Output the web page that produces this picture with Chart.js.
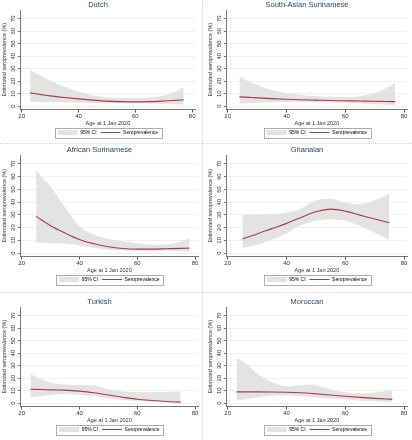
<!DOCTYPE html>
<html>
<head>
<meta charset="utf-8">
<script src="https://cdn.jsdelivr.net/npm/chart.js@4.4.1/dist/chart.umd.min.js"></script>
<style>
  html, body { margin: 0; padding: 0; background: #fff; }
  #wrap { position: relative; width: 412px; height: 440px; overflow: hidden; }
  #wrap canvas { position: absolute; }
  .sep { position: absolute; border: 0 dotted #d6d6d6; }
</style>
</head>
<body>
<div id="wrap">
  <div class="sep" style="left:202px;top:0;height:440px;border-left-width:1px"></div>
  <div class="sep" style="left:0;top:143px;width:412px;border-top-width:1px"></div>
  <div class="sep" style="left:0;top:292px;width:412px;border-top-width:1px"></div>
  <canvas id="p0"></canvas>
  <canvas id="p1"></canvas>
  <canvas id="p2"></canvas>
  <canvas id="p3"></canvas>
  <canvas id="p4"></canvas>
  <canvas id="p5"></canvas>
</div>
<script>
// ── data ──
const groups = ['Dutch', 'South-Asian Surinamese', 'African Surinamese', 'Ghanaian', 'Turkish', 'Moroccan'];
const xTicks = [20, 40, 60, 80];
const yTicks = [0, 10, 20, 30, 40, 50, 60, 70];

const agesDutch = [23, 27, 30, 35, 40, 45, 50, 55, 60, 65, 70, 74, 77];
const estDutch  = [10.6, 9.2, 8.2, 6.9, 5.8, 4.8, 4.0, 3.6, 3.4, 3.6, 4.1, 4.6, 5.0];
const hiDutch   = [29, 24, 20.5, 15.5, 11.5, 8.8, 7.2, 6.6, 6.5, 7.0, 8.5, 11.5, 15.5];
const loDutch   = [3.3, 3.2, 3.1, 3.0, 2.8, 2.6, 2.4, 2.3, 2.3, 2.2, 1.9, 1.6, 1.3];

const agesSAS = [24, 27, 30, 35, 40, 45, 50, 55, 60, 65, 70, 74, 77];
const estSAS  = [7.4, 7.0, 6.6, 6.0, 5.5, 5.1, 4.8, 4.5, 4.3, 4.1, 3.9, 3.7, 3.6];
const hiSAS   = [24, 20, 17, 13, 10.5, 9, 8, 7.5, 7.3, 8, 10.5, 14.5, 18.7];
const loSAS   = [2.2, 2.5, 2.8, 3.2, 3.3, 3.3, 3.2, 3.0, 2.6, 2.1, 1.6, 1.2, 0.9];

const agesAS = [25, 30, 35, 40, 45, 50, 55, 60, 65, 70, 75, 78];
const estAS  = [28.8, 21.5, 15.8, 10.6, 7.3, 4.9, 3.6, 3.1, 3.1, 3.4, 3.7, 3.9];
const hiAS   = [64.8, 52, 36, 21, 14.5, 11, 9.3, 7.8, 6.5, 6.7, 9, 11.7];
const loAS   = [8.0, 7.8, 7.5, 6.0, 4.1, 2.6, 2.0, 1.8, 1.8, 1.8, 1.5, 1.3];

const agesGha = [25, 30, 35, 40, 45, 50, 55, 60, 65, 70, 75];
const estGha  = [11.1, 15, 19.2, 23.3, 28, 32.4, 34.5, 32.9, 29.8, 26.7, 23.8];
const hiGha   = [29.8, 30.3, 30.6, 31.6, 35, 41.5, 42.7, 39.4, 38.3, 41.5, 46.6];
const loGha   = [3.9, 6.5, 10.4, 15.5, 22, 25.4, 26.4, 25.4, 21.2, 16, 10.4];

const agesTur = [23, 27, 30, 35, 40, 45, 50, 55, 60, 65, 70, 75];
const estTur  = [11.1, 10.9, 10.6, 10.4, 9.6, 8.3, 6.5, 4.7, 3.1, 2.1, 1.3, 0.8];
const hiTur   = [23.3, 18.9, 16.3, 15, 14.5, 14.2, 11.1, 9.3, 8.8, 8.8, 9, 9.3];
const loTur   = [4.7, 5.7, 6.5, 7.3, 6.7, 5.7, 3.9, 2.6, 1.8, 1.3, 0.8, 0.5];

const agesMor = [23, 27, 30, 35, 40, 45, 48, 50, 55, 60, 65, 70, 76];
const estMor  = [9.0, 9.0, 9.0, 8.9, 8.7, 8.3, 7.9, 7.5, 6.5, 5.5, 4.6, 3.8, 3.0];
const hiMor   = [36.7, 30.3, 23.8, 16.9, 13.6, 14.4, 14.9, 14.4, 11, 8.5, 7.7, 8.5, 10.3];
const loMor   = [2, 3.5, 4.6, 5.9, 6.4, 5.6, 5.0, 4.6, 3.8, 3.1, 2, 1.5, 0.8];

const panelAges = [agesDutch, agesSAS, agesAS, agesGha, agesTur, agesMor];
const panelEst  = [estDutch, estSAS, estAS, estGha, estTur, estMor];
const panelHi   = [hiDutch, hiSAS, hiAS, hiGha, hiTur, hiMor];
const panelLo   = [loDutch, loSAS, loAS, loGha, loTur, loMor];

// ── layout / style ──
const boxes = [
  { left: 0,   top: 0,   w: 200, h: 143, pb: -2 },
  { left: 206, top: 0,   w: 206, h: 143, pb: -2 },
  { left: 0,   top: 145, w: 203, h: 147, pb: 0 },
  { left: 206, top: 145, w: 206, h: 147, pb: 0 },
  { left: 0,   top: 297, w: 203, h: 143, pb: -2 },
  { left: 206, top: 297, w: 206, h: 143, pb: -2 }
];
const FONT = '"Liberation Sans", Arial, sans-serif';
const LINE = '#a83b4b';
const CI = '#e3e3e3';
const AXIS = '#555';

const pts = (xs, ys) => xs.map((x, i) => ({ x, y: ys[i] }));

// frame round the legend, like the Stata key box
const legendFrame = {
  id: 'legendFrame',
  afterDraw(chart) {
    const hb = chart.legend && chart.legend.legendHitBoxes;
    if (!hb || !hb.length) return;
    const l = Math.min(...hb.map(b => b.left)) - 3;
    const r = Math.max(...hb.map(b => b.left + b.width)) + 4;
    const t = Math.min(...hb.map(b => b.top)) - 2.5;
    const b = Math.max(...hb.map(b => b.top + b.height)) + 2;
    const ctx = chart.ctx;
    ctx.save();
    ctx.strokeStyle = '#9a9a9a';
    ctx.lineWidth = 0.8;
    ctx.strokeRect(Math.round(l) + 0.5, Math.round(t) + 0.5, Math.round(r - l), Math.round(b - t));
    ctx.restore();
  }
};

groups.forEach((name, i) => {
  const bx = boxes[i];
  const cv = document.getElementById('p' + i);
  cv.width = bx.w; cv.height = bx.h;
  cv.style.left = bx.left + 'px'; cv.style.top = bx.top + 'px';
  cv.style.width = bx.w + 'px'; cv.style.height = bx.h + 'px';

  const ages = panelAges[i];
  new Chart(cv, {
    type: 'line',
    data: {
      datasets: [
        {
          label: '95% CI',
          data: pts(ages, panelHi[i]),
          borderWidth: 0,
          backgroundColor: CI,
          pointRadius: 0,
          fill: '+1',
          order: 2,
          cubicInterpolationMode: 'monotone'
        },
        {
          label: 'lower',
          data: pts(ages, panelLo[i]),
          borderWidth: 0,
          pointRadius: 0,
          fill: false,
          order: 2,
          cubicInterpolationMode: 'monotone'
        },
        {
          label: 'Seroprevalence',
          data: pts(ages, panelEst[i]),
          borderColor: LINE,
          borderWidth: 1.1,
          pointRadius: 0,
          fill: false,
          order: 0,
          cubicInterpolationMode: 'monotone'
        }
      ]
    },
    options: {
      responsive: false,
      animation: false,
      devicePixelRatio: 1,
      layout: { padding: { left: 1, right: 5, top: 0, bottom: bx.pb } },
      plugins: {
        title: {
          display: true,
          text: name,
          color: '#1a476f',
          font: { family: FONT, size: 7.5, weight: 'normal', lineHeight: 1.2 },
          padding: { top: 0.5, bottom: 0.5 }
        },
        legend: {
          position: 'bottom',
          fullSize: false,
          labels: {
            font: { family: FONT, size: 5 },
            color: '#222',
            usePointStyle: true,
            pointStyleWidth: 20,
            boxHeight: 7,
            padding: 4,
            generateLabels: () => [
              { text: '95% CI', fillStyle: CI, strokeStyle: CI, lineWidth: 0, pointStyle: 'rect', datasetIndex: 0 },
              { text: 'Seroprevalence', fillStyle: LINE, strokeStyle: LINE, lineWidth: 1.1, pointStyle: 'line', datasetIndex: 2 }
            ]
          }
        },
        tooltip: { enabled: false }
      },
      scales: {
        x: {
          type: 'linear',
          min: 19.7,
          max: 81,
          afterBuildTicks: ax => { ax.ticks = xTicks.map(v => ({ value: v })); },
          grid: { drawOnChartArea: false, drawTicks: true, tickLength: 3, tickColor: AXIS },
          border: { display: true, color: AXIS, width: 0.8 },
          ticks: { font: { family: FONT, size: 6, lineHeight: 1 }, color: '#333', padding: 1, maxRotation: 0 },
          title: { display: true, text: 'Age at 1 Jan 2020', font: { family: FONT, size: 5.5, lineHeight: 1 }, color: '#333', padding: { top: 0, bottom: 0 } }
        },
        y: {
          min: -2.7,
          max: 77,
          afterBuildTicks: ax => { ax.ticks = yTicks.map(v => ({ value: v })); },
          grid: { color: '#ececec', lineWidth: 0.8, drawTicks: true, tickLength: 3, tickColor: AXIS },
          border: { display: true, color: AXIS, width: 0.8 },
          ticks: { font: { family: FONT, size: 6 }, color: '#333', padding: 1, minRotation: 90, maxRotation: 90, crossAlign: 'center' },
          title: { display: true, text: 'Estimated seroprevalence (%)', font: { family: FONT, size: 5.5 }, color: '#333', padding: { top: 0, bottom: 1 } }
        }
      }
    },
    plugins: [legendFrame]
  });
});
</script>
</body>
</html>
